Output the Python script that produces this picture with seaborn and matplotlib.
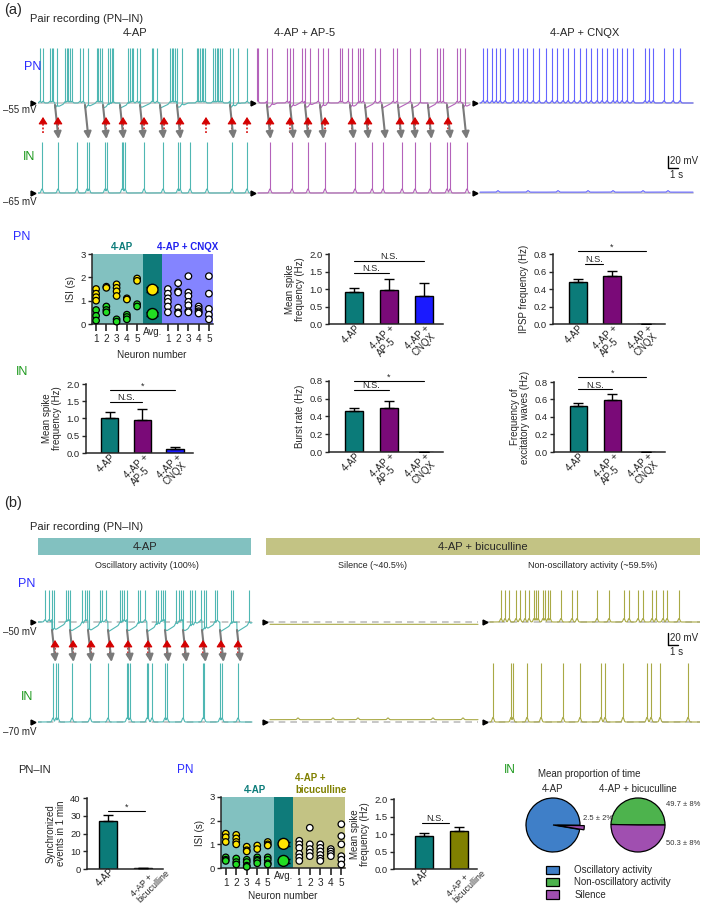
import numpy as np
import pandas as pd
import matplotlib
matplotlib.use("Agg")
import matplotlib.pyplot as plt
import matplotlib.transforms as mtrans
import seaborn as sns
from matplotlib.patches import Rectangle, Patch

sns.set_style("ticks")
plt.rcParams["font.family"] = ["Liberation Sans", "DejaVu Sans"]
plt.rcParams["axes.linewidth"] = 1.1

# ---------------------------------------------------------------- data
# (a) traces, spike / event times in seconds
a_pn_4ap = [0.2, 0.5, 1.2, 1.4, 1.5, 1.9, 2.7, 2.9, 3.0, 3.2, 3.4, 4.2, 4.5, 5.0, 5.9, 6.0, 6.2, 6.4,
            7.0, 7.2, 7.4, 7.5, 9.0, 9.2, 9.4, 9.5, 9.9, 10.2, 11.4, 11.5, 11.9, 13.2, 13.4, 13.5, 13.7,
            13.9, 14.4, 15.9, 16.0, 16.2, 16.4, 16.5, 16.7, 17.5, 17.7, 17.9, 18.0, 18.2, 18.4, 19.2,
            19.5, 20.0, 20.9]
a_in_4ap = [0.4, 2.0, 3.9, 4.9, 5.1, 6.7, 6.9, 8.4, 8.5, 8.7, 10.6, 12.5, 14.0, 14.2, 15.2, 16.9, 19.4, 20.9]
a_pn_ap5 = [21.9, 22.0, 22.9, 23.4, 24.9, 25.2, 25.5, 26.4, 26.7, 27.2, 28.0, 28.5, 29.0, 30.2, 30.4,
            31.0, 31.4, 32.0, 32.2, 32.5, 33.7, 34.2, 35.5, 35.9, 37.2, 38.2, 39.9, 40.2, 40.5, 41.9,
            42.2, 42.7]
a_in_ap5 = [23.2, 25.4, 27.0, 28.7, 31.7, 33.4, 34.5, 36.4, 37.7, 39.2, 40.9, 41.2, 42.9]
a_pn_cnqx = [44.5, 44.9, 45.4, 45.8, 46.2, 46.7, 47.5, 48.0, 48.5, 48.9, 49.5, 50.1, 50.8, 51.4, 51.9,
             52.5, 53.0, 53.6, 54.2, 54.8, 55.3, 55.9, 56.4, 56.9, 57.5, 57.9, 58.4, 58.9, 59.5, 60.7,
             61.1, 61.5, 62.6, 63.5, 64.2]
a_in_cnqx_bumps = [46.0, 49.0, 52.0, 55.0, 57.5, 60.5, 63.0]
a_gray_arrows = [1.7, 4.7, 6.5, 8.2, 10.2, 12.2, 13.9, 19.2,
                 22.9, 25.2, 26.7, 28.2, 31.2, 32.7, 34.4, 36.0, 37.4, 39.0, 40.9, 42.5]
a_red_arrows = [0.5, 2.0, 6.8, 8.5, 10.6, 12.6, 14.2, 16.8, 19.4, 20.9,
                23.2, 25.2, 27.0, 28.7, 31.4, 33.0, 36.2, 37.7, 39.2, 41.0]

# (b) traces
b_pn_4ap = [0.7, 1.1, 1.4, 1.6, 2.8, 3.0, 3.2, 4.4, 4.7, 4.9, 5.1, 6.2, 6.4, 6.8, 8.2, 8.4, 8.6, 8.9,
            10.0, 10.2, 10.7, 11.8, 12.0, 12.3, 12.5, 12.7, 13.8, 14.1, 14.3, 14.5, 15.2, 15.4, 15.7,
            16.3, 16.6, 16.8, 17.7, 17.9, 19.3, 19.5, 21.1]
b_in_4ap = [1.5, 1.8, 2.0, 3.4, 5.2, 7.0, 8.9, 9.0, 9.2, 10.9, 11.0, 11.4, 12.7, 12.9, 14.5, 16.5,
            16.6, 18.2, 18.4, 20.0]
b_gray_arrows = [1.4, 3.2, 5.0, 7.0, 8.9, 10.9, 12.7, 14.5, 16.4, 18.2, 19.9]
b_red_arrows = [1.7, 3.5, 5.3, 7.2, 9.0, 11.0, 12.9, 14.7, 16.5, 18.3, 20.0]
b_in_silence_bumps = [26.0, 29.5, 32.0, 35.0, 39.5, 42.5]
b_pn_nonosc = [46.3, 46.7, 47.1, 47.8, 48.2, 48.7, 49.1, 49.6, 49.8, 50.0, 50.5, 50.7, 51.0, 51.2,
               52.3, 53.4, 53.9, 55.9, 57.1, 58.6, 59.1, 60.0, 60.5, 61.4, 61.8, 62.5, 62.9, 64.1]
b_in_nonosc = [45.5, 47.3, 47.5, 48.9, 50.3, 52.5, 54.2, 56.3, 56.7, 58.5, 60.9, 61.3, 62.2, 65.0]

# (a) ISI (s)
isi_a_long = [[1.5, 1.3, 1.15, 1.0], [1.6, 1.55], [1.7, 1.55, 1.4, 1.2], [1.1, 1.05], [1.95, 1.85]]
isi_a_short = [[0.6, 0.35, 0.15], [0.75, 0.6, 0.5], [0.2, 0.1], [0.4, 0.3, 0.2], [0.85, 0.75]]
isi_a_avg = [1.47, 0.43]
isi_a_avg_err = [0.10, 0.10]
isi_a_drug = [[1.5, 1.3, 1.1, 0.95, 0.75, 0.5], [1.75, 1.4, 1.35, 0.7, 0.5, 0.45],
              [2.05, 1.35, 1.2, 0.95, 0.8, 0.55, 0.5], [0.75, 0.65, 0.55, 0.5, 0.45],
              [2.05, 1.3, 0.65, 0.4, 0.2]]
# (b) ISI (s)
isi_b_long = [[1.45, 1.3, 1.1], [1.4, 1.25, 1.1, 1.0], [0.9, 0.75, 0.7], [0.95, 0.8], [1.1, 1.0, 0.95]]
isi_b_short = [[0.45, 0.35, 0.3], [0.4, 0.25, 0.15], [0.35, 0.25, 0.1, 0.05], [0.45, 0.35, 0.3, 0.2],
               [0.45, 0.35, 0.2, 0.15]]
isi_b_avg = [1.02, 0.30]
isi_b_avg_err = [0.08, 0.07]
isi_b_drug = [[1.15, 1.0, 0.85, 0.6, 0.45, 0.3], [1.7, 1.0, 0.8, 0.65, 0.5],
              [1.0, 0.85, 0.7, 0.55, 0.4, 0.3], [0.8, 0.7, 0.6, 0.5], [1.85, 1.35, 1.0, 0.5, 0.35, 0.15]]
neuron_labels = ["1", "2", "3", "4", "5"]

# bar charts
a_cats = ["4-AP", "4-AP +\nAP-5", "4-AP +\nCNQX"]
a_pn_spike = [0.92, 0.98, 0.80]
a_pn_spike_err = [0.10, 0.30, 0.38]
a_pn_ipsp = [0.48, 0.55, 0.004]
a_pn_ipsp_err = [0.03, 0.06, 0.0]
a_in_spike = [1.00, 0.95, 0.12]
a_in_spike_err = [0.20, 0.32, 0.05]
a_in_burst = [0.46, 0.50, 0.004]
a_in_burst_err = [0.04, 0.08, 0.0]
a_in_waves = [0.52, 0.59, 0.004]
a_in_waves_err = [0.04, 0.07, 0.0]
b_cats = ["4-AP", "4-AP +\nbicuculline"]
b_sync = [27.0, 0.3]
b_sync_err = [3.5, 0.0]
b_pn_spike = [0.93, 1.08]
b_pn_spike_err = [0.10, 0.13]
pie_4ap = [97.5, 2.5]
pie_bic = [49.7, 50.3]
pie_labels = ["Oscillatory activity", "Non-oscillatory activity", "Silence"]

# ---------------------------------------------------------------- colours
TEAL_T, PURP_T, BLUE_T, OLIVE_T = "#4fb7b3", "#b462ba", "#6464ff", "#a9a945"
TEAL, PURP, BLUE, OLIVE = "#0b7b79", "#7a0a78", "#1a1aff", "#808000"
BG_TEAL, BG_DTEAL, BG_VIOL, BG_OLIVE = "#82c1c0", "#0f7b7a", "#8484ff", "#c3c384"
PN_C, IN_C = "#2b2bff", "#1f9a1f"
YEL, GRN = "#ffe600", "#22dd22"
PIE_B, PIE_G, PIE_P = "#3f7fc8", "#4db34d", "#a04fb0"

W, H = 709, 905
fig = plt.figure(figsize=(W / 100, H / 100), dpi=100)


def ax_px(x0, y0, x1, y1):
    return fig.add_axes([x0 / W, 1 - y1 / H, (x1 - x0) / W, (y1 - y0) / H])


def ftext(x, y, s, **kw):
    kw.setdefault("va", "center")
    fig.text(x / W, 1 - y / H, s, **kw)


K = 0.58  # px per mV


def trace_ax(y0, y1, base_px, base_mv):
    ax = ax_px(38, y0, 700, y1)
    ax.set_xlim(0, 66.2)
    ax.set_ylim(base_mv - (y1 - base_px) / K, base_mv + (base_px - y0) / K)
    ax.axis("off")
    return ax


def segment(ax, t0, t1, base, color, spikes=(), peak=0, dips=(), depth=0, rec=1.0,
            bump_amp=0.0, bumps=None, offset=0.0, dashed=False):
    if dashed:
        ax.plot([t0 - 0.3, t1], [base, base], color="#bdbdbd", lw=1.2, ls=(0, (4, 3)), zorder=1)
    else:
        ax.plot([t0, t1], [base, base], color="#c8c8c8", lw=1.2, zorder=1)
    t = np.linspace(t0, t1, int((t1 - t0) * 60) + 1)
    v = np.full_like(t, base + offset)
    for d in dips:
        m = (t >= d) & (t < d + rec)
        v[m] -= depth * (1 - (t[m] - d) / rec)
    bt = spikes if bumps is None else bumps
    if len(bt) and bump_amp:
        env = np.max([bump_amp * np.exp(-((t - b) / 0.12) ** 2) for b in bt], axis=0)
        v = v + env
    ax.plot(t, v, color=color, lw=0.8, zorder=2)
    if len(spikes):
        sb = np.interp(spikes, t, v)
        ax.vlines(spikes, sb, peak, color=color, lw=0.8, zorder=2)
    ax.plot([t0 - 0.5], [base], marker=">", color="k", ms=3.5, clip_on=False, zorder=3)


def arrows(y0, y1, gray, red, g_from, g_to, r_from, r_to):
    ax = ax_px(38, y0, 700, y1)
    ax.set_xlim(0, 66.2)
    ax.set_ylim(y1, y0)
    ax.axis("off")
    for t in gray:
        ax.annotate("", xy=(t + 0.35, g_to), xytext=(t, g_from), annotation_clip=False,
                    arrowprops=dict(arrowstyle="-|>,head_length=0.7,head_width=0.35",
                                    mutation_scale=6, shrinkA=0, shrinkB=0,
                                    color="#7a7a7a", lw=1.5))
    for t in red:
        ax.plot([t, t], [r_from, r_to + 2.5], color="#d40000", lw=1.1, ls=(0, (1.2, 1.2)))
        ax.annotate("", xy=(t, r_to), xytext=(t, r_to + 3), annotation_clip=False,
                    arrowprops=dict(arrowstyle="-|>,head_length=0.7,head_width=0.45",
                                    mutation_scale=6, shrinkA=0, shrinkB=0,
                                    color="#d40000", lw=0.8))


def style_ax(ax):
    sns.despine(ax=ax)
    ax.tick_params(labelsize=6.8, length=3, width=1, pad=1.5)


def barchart(ax, cats, vals, errs, colors, ylim, yticks, fmt, ylabel, xlim, lab_off):
    df = pd.DataFrame({"cond": cats, "val": vals})
    sns.barplot(data=df, x="cond", y="val", hue="cond", palette=colors, legend=False,
                ax=ax, width=0.52, edgecolor="black", linewidth=1.0, saturation=1)
    x = np.arange(len(vals))
    ax.errorbar(x, vals, yerr=[np.zeros(len(vals)), errs], fmt="none", ecolor="black",
                elinewidth=1.0, capsize=3.5, capthick=1.0, zorder=5)
    ax.set_ylim(*ylim)
    ax.set_yticks(yticks)
    ax.set_yticklabels([fmt.format(v) for v in yticks])
    ax.set_xlim(*xlim)
    ax.set_xlabel("")
    ax.set_ylabel(ylabel, fontsize=7, labelpad=3, linespacing=1.0)
    style_ax(ax)
    ax.set_xticks(x)
    ax.set_xticklabels([])
    ax.tick_params(axis="x", length=0)
    base = mtrans.blended_transform_factory(ax.transData, ax.transAxes)
    for i, c in enumerate(cats):
        dx, dy, fs = lab_off[i]
        tr = base + mtrans.ScaledTranslation(dx / 100, -dy / 100, fig.dpi_scale_trans)
        ax.text(i, 0, c, transform=tr, rotation=45, rotation_mode="anchor", ha="right",
                va="top", ma="left", fontsize=fs, linespacing=0.95)


def sig(ax, x0, x1, y, label):
    ax.plot([x0, x1], [y, y], color="k", lw=0.8, clip_on=False)
    tr = ax.transData + mtrans.ScaledTranslation(0, 1.5 / 100, fig.dpi_scale_trans)
    ax.text((x0 + x1) / 2, y, label, ha="center", va="baseline", fontsize=6.6, transform=tr)


def isi_plot(ax, long_, short_, avg, avg_err, drug, drug_bg, xlim):
    ax.axvspan(xlim[0], 5.6, color=BG_TEAL, lw=0, zorder=0)
    ax.axvspan(5.6, 7.4, color=BG_DTEAL, lw=0, zorder=0)
    ax.axvspan(7.4, xlim[1], color=drug_bg, lw=0, zorder=0)
    rows = []
    for i in range(5):
        rows += [(1 + i, v, "long") for v in long_[i]]
        rows += [(1 + i, v, "short") for v in short_[i]]
        rows += [(8 + i, v, "drug") for v in drug[i]]
    df = pd.DataFrame(rows, columns=["x", "y", "kind"])
    pal = {"long": YEL, "short": GRN, "drug": "white"}
    sns.scatterplot(data=df, x="x", y="y", hue="kind", palette=pal, edgecolor="black",
                    linewidth=0.9, s=22, legend=False, ax=ax, clip_on=False, zorder=3)
    dfa = pd.DataFrame({"x": [6.5, 6.5], "y": avg, "kind": ["long", "short"]})
    ax.errorbar(dfa["x"], dfa["y"], yerr=avg_err, fmt="none", ecolor="black", elinewidth=1,
                capsize=4, zorder=3)
    sns.scatterplot(data=dfa, x="x", y="y", hue="kind", palette=pal, edgecolor="black",
                    linewidth=1.0, s=62, legend=False, ax=ax, clip_on=False, zorder=4)
    ax.set_xlim(*xlim)
    ax.set_ylim(0, 3)
    ax.set_yticks([0, 1, 2, 3])
    ax.set_xticks([1, 2, 3, 4, 5, 8, 9, 10, 11, 12])
    ax.set_xticklabels(neuron_labels + neuron_labels)
    ax.set_xlabel("")
    ax.set_ylabel("ISI (s)", fontsize=7, labelpad=3)
    style_ax(ax)
    ax.tick_params(axis="x", length=5, width=1.2, labelsize=7.2, pad=2.5)
    ax.text(6.5, -0.12, "Avg.", ha="center", va="top", fontsize=7)


LAB3 = [(1, -1, 7), (1, -1, 7), (1, -1, 7)]
LAB2 = [(1, -3, 7), (16, -7, 6.4)]

# ================================================================ panel (a)
ftext(4, 10, "(a)", fontsize=10.5)
ftext(30, 19, "Pair recording (PN\u2013IN)", fontsize=8)
ftext(135, 33, "4-AP", fontsize=8, ha="center")
ftext(305, 33, "4-AP + AP-5", fontsize=8, ha="center")
ftext(585, 33, "4-AP + CNQX", fontsize=8, ha="center")
ftext(33, 67, "PN", fontsize=9, ha="center", color=PN_C)
ftext(29, 157, "IN", fontsize=9, ha="center", color=IN_C)
ftext(3, 110, "\u201355 mV", fontsize=7)
ftext(3, 202, "\u201365 mV", fontsize=7)

ax = trace_ax(40, 112, 103, -55)
segment(ax, 0.0, 21.2, -55, TEAL_T, a_pn_4ap, 40, a_gray_arrows[:8], 9, 1.1, 3)
segment(ax, 22.0, 43.2, -55, PURP_T, a_pn_ap5, 40, a_gray_arrows[8:], 9, 1.0, 3)
segment(ax, 44.2, 65.5, -55, BLUE_T, a_pn_cnqx, 40, (), 0, 1.0, 4)

ax = trace_ax(135, 200, 193, -65)
segment(ax, 0.0, 21.2, -65, TEAL_T, a_in_4ap, 23, (), 0, 1.0, 7)
segment(ax, 22.0, 43.2, -65, PURP_T, a_in_ap5, 23, (), 0, 1.0, 7)
segment(ax, 44.2, 65.5, -65, BLUE_T, (), 23, (), 0, 1.0, 2.5, bumps=a_in_cnqx_bumps, offset=1.5)
# scale bar (20 mV, 1 s)
ax.plot([63.0, 63.0, 64.0], [-2.0, -22.0, -22.0], color="k", lw=1.0, clip_on=False)
ax.text(63.25, -9, "20 mV", fontsize=7, va="center", ha="left")
ax.text(63.9, -26, "1 s", fontsize=7, va="top", ha="center")

arrows(100, 145, a_gray_arrows, a_red_arrows, 105, 139, 133, 117)

# ---- middle row (PN)
ftext(22, 237, "PN", fontsize=9, ha="center", color=PN_C)
ax = ax_px(92, 254, 213, 324)
isi_plot(ax, isi_a_long, isi_a_short, isi_a_avg, isi_a_avg_err, isi_a_drug, BG_VIOL, (0.6, 12.4))
ftext(122, 247, "4-AP", fontsize=7, ha="center", color=TEAL, weight="bold")
ftext(188, 247, "4-AP + CNQX", fontsize=7, ha="center", color="#2020ee", weight="bold")
ftext(152, 355, "Neuron number", fontsize=7.2, ha="center")

XL3 = (-0.72, 2.55)
ax = ax_px(329, 254, 443, 324)
barchart(ax, a_cats, a_pn_spike, a_pn_spike_err, [TEAL, PURP, BLUE], (0, 2.0),
         [0, 0.5, 1.0, 1.5, 2.0], "{:.1f}", "Mean spike\nfrequency (Hz)", XL3, LAB3)
sig(ax, 0, 1, 1.47, "N.S.")
sig(ax, 0, 2, 1.81, "N.S.")

ax = ax_px(553, 254, 665, 324)
barchart(ax, a_cats, a_pn_ipsp, a_pn_ipsp_err, [TEAL, PURP, BLUE], (0, 0.8),
         [0, 0.2, 0.4, 0.6, 0.8], "{:.1f}", "IPSP frequency (Hz)", XL3, LAB3)
sig(ax, 0.2, 0.75, 0.69, "N.S.")
sig(ax, 0, 2, 0.83, "*")

# ---- lower row (IN)
ftext(22, 372, "IN", fontsize=9, ha="center", color=IN_C)
ax = ax_px(86, 384, 193, 453)
barchart(ax, a_cats, a_in_spike, a_in_spike_err, [TEAL, PURP, BLUE], (0, 2.0),
         [0, 0.5, 1.0, 1.5, 2.0], "{:.1f}", "Mean spike\nfrequency (Hz)", XL3, LAB3)
sig(ax, 0, 1, 1.49, "N.S.")
sig(ax, 0, 2, 1.83, "*")

ax = ax_px(329, 381, 443, 452)
barchart(ax, a_cats, a_in_burst, a_in_burst_err, [TEAL, PURP, BLUE], (0, 0.8),
         [0, 0.2, 0.4, 0.6, 0.8], "{:.1f}", "Burst rate (Hz)", XL3, LAB3)
sig(ax, 0, 1, 0.70, "N.S.")
sig(ax, 0, 2, 0.80, "*")

ax = ax_px(554, 382, 665, 452)
barchart(ax, a_cats, a_in_waves, a_in_waves_err, [TEAL, PURP, BLUE], (0, 0.8),
         [0, 0.2, 0.4, 0.6, 0.8], "{:.1f}", "Frequency of\nexcitatory waves (Hz)", XL3, LAB3)
sig(ax, 0, 1, 0.72, "N.S.")
sig(ax, 0, 2, 0.86, "*")

# ================================================================ panel (b)
ftext(4, 503, "(b)", fontsize=10.5)
ftext(30, 527, "Pair recording (PN\u2013IN)", fontsize=8)
fig.add_artist(Rectangle((38 / W, 1 - 555 / H), (251 - 38) / W, 17 / H,
                         transform=fig.transFigure, color=BG_TEAL, lw=0))
fig.add_artist(Rectangle((266 / W, 1 - 555 / H), (700 - 266) / W, 17 / H,
                         transform=fig.transFigure, color=BG_OLIVE, lw=0))
ftext(145, 547, "4-AP", fontsize=8, ha="center")
ftext(483, 547, "4-AP + bicuculline", fontsize=8, ha="center")
ftext(147, 566, "Oscillatory activity (100%)", fontsize=6.5, ha="center")
ftext(373, 566, "Silence (~40.5%)", fontsize=6.5, ha="center")
ftext(593, 566, "Non-oscillatory activity (~59.5%)", fontsize=6.5, ha="center")
ftext(27, 584, "PN", fontsize=9, ha="center", color=PN_C)
ftext(27, 697, "IN", fontsize=9, ha="center", color=IN_C)
ftext(3, 632, "\u201350 mV", fontsize=7)
ftext(3, 732, "\u201370 mV", fontsize=7)

ax = trace_ax(585, 640, 622, -50)
segment(ax, 0.0, 21.4, -50, TEAL_T, b_pn_4ap, 5, b_gray_arrows, 17, 1.6, 4, dashed=True)
segment(ax, 23.2, 44.0, -50, OLIVE_T, (), 5, (), 0, 1.0, 0, offset=-4, dashed=True)
segment(ax, 45.2, 66.2, -50, OLIVE_T, b_pn_nonosc, 5, (), 0, 1.0, 6, dashed=True)
ax.plot([63.0, 63.0, 64.0], [-69.0, -89.0, -89.0], color="k", lw=1.0, clip_on=False)
ax.text(63.25, -77, "20 mV", fontsize=7, va="center", ha="left")
ax.text(63.9, -93, "1 s", fontsize=7, va="top", ha="center")

ax = trace_ax(660, 730, 722, -70)
segment(ax, 0.0, 21.4, -70, TEAL_T, b_in_4ap, 32, (), 0, 1.0, 7, dashed=True)
segment(ax, 23.2, 44.0, -70, OLIVE_T, (), 32, (), 0, 1.0, 3, bumps=b_in_silence_bumps,
        offset=4, dashed=True)
segment(ax, 45.2, 66.2, -70, OLIVE_T, b_in_nonosc, 32, (), 0, 1.0, 8, dashed=True)

arrows(625, 665, b_gray_arrows, b_red_arrows, 630, 662, 657, 640)

# ---- bottom row
ftext(18, 770, "PN\u2013IN", fontsize=8)
ftext(185, 770, "PN", fontsize=8.5, ha="center", color=PN_C)
ftext(510, 770, "IN", fontsize=8.5, ha="center", color=IN_C)

ax = ax_px(87, 798, 163, 869)
barchart(ax, b_cats, b_sync, b_sync_err, [TEAL, OLIVE], (0, 40), [0, 10, 20, 30, 40], "{:.0f}",
         "Synchronized\nevents in 1 min", (-0.6, 1.57), LAB2)
sig(ax, 0, 1.05, 32.7, "*")

ax = ax_px(221, 797, 345, 868)
isi_plot(ax, isi_b_long, isi_b_short, isi_b_avg, isi_b_avg_err, isi_b_drug, BG_OLIVE, (0.55, 12.35))
ftext(255, 790, "4-AP", fontsize=7, ha="center", color=TEAL, weight="bold")
ftext(295, 778, "4-AP +", fontsize=7, ha="left", color=OLIVE, weight="bold")
ftext(295, 790, "bicuculline", fontsize=7, ha="left", color=OLIVE, weight="bold")
ftext(283, 896, "Neuron number", fontsize=7.2, ha="center")

ax = ax_px(394, 799, 477, 869)
barchart(ax, b_cats, b_pn_spike, b_pn_spike_err, [TEAL, OLIVE], (0, 2.0),
         [0, 0.5, 1.0, 1.5, 2.0], "{:.1f}", "Mean spike\nfrequency (Hz)", (-0.86, 1.51), LAB2)
sig(ax, -0.05, 0.7, 1.32, "N.S.")

# pies
ftext(538, 774, "Mean proportion of time", fontsize=7)
ftext(553, 789, "4-AP", fontsize=7, ha="center")
ftext(638, 789, "4-AP + bicuculline", fontsize=7, ha="center")
ax = ax_px(526, 798, 580, 852)
ax.pie(pie_4ap, colors=[PIE_B, PIE_P], startangle=-0.5, explode=[0, 0.16],
       wedgeprops=dict(edgecolor="black", linewidth=0.9))
ax.set_xlim(-1, 1)
ax.set_ylim(-1, 1)
for p in ax.patches:
    p.set_clip_on(False)
ax = ax_px(611, 798, 665, 852)
ax.pie(pie_bic, colors=[PIE_G, PIE_P], startangle=0,
       wedgeprops=dict(edgecolor="black", linewidth=0.9))
ax.set_xlim(-1, 1)
ax.set_ylim(-1, 1)
ftext(583, 818, "2.5 \u00b1 2%", fontsize=5.5, color="#333333")
ftext(666, 805, "49.7 \u00b1 8%", fontsize=5.5, color="#333333")
ftext(666, 843, "50.3 \u00b1 8%", fontsize=5.5, color="#333333")

handles = [Patch(facecolor=c, edgecolor="black", linewidth=0.9) for c in (PIE_B, PIE_G, PIE_P)]
fig.legend(handles, pie_labels, loc="upper left", bbox_to_anchor=(546 / W, 1 - 865 / H),
           frameon=False, fontsize=7, handlelength=1.3, handleheight=0.9,
           labelspacing=0.25, handletextpad=1.6, borderpad=0, borderaxespad=0)

fig.savefig("out.png", dpi=100)
